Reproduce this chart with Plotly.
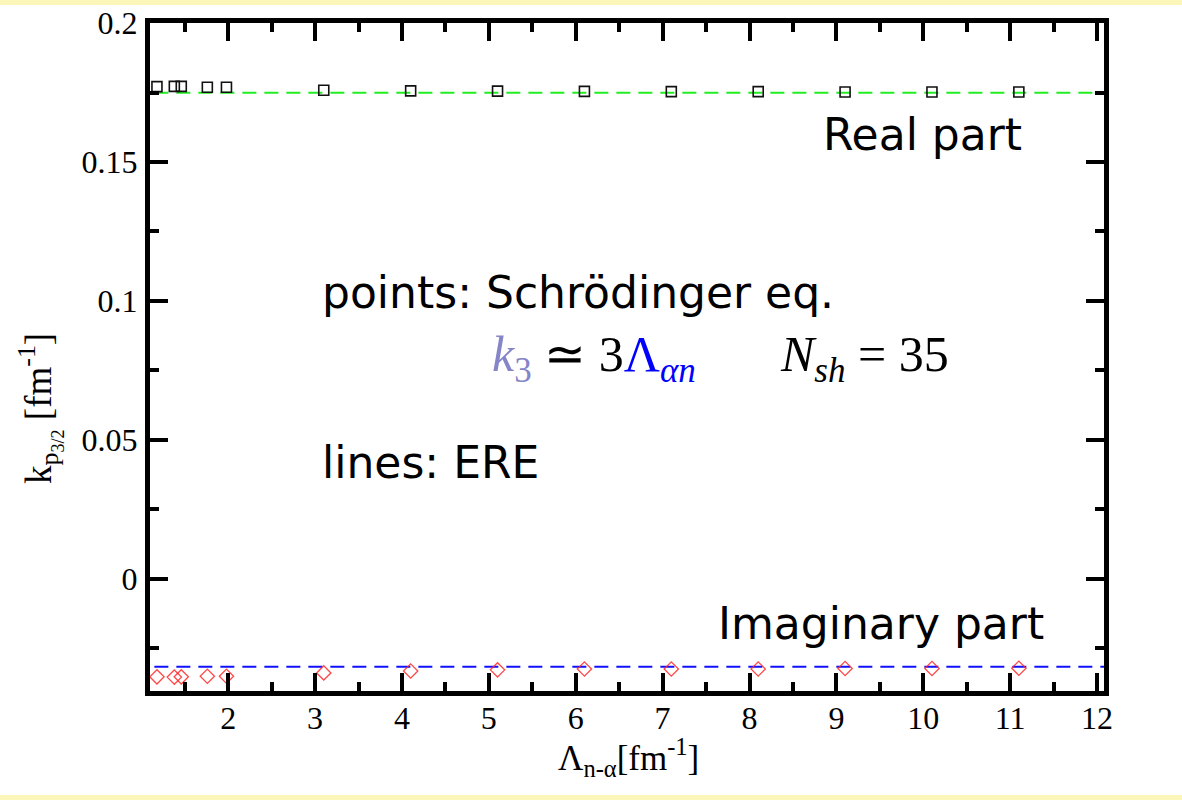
import plotly.graph_objects as go

# ---- data ----
lam_pts = [1.18, 1.38, 1.46, 1.76, 1.98, 3.1, 4.1, 5.1, 6.1, 7.1, 8.1, 9.1, 10.1, 11.1]
real_pts = [0.1771, 0.1772, 0.1772, 0.1769, 0.1769, 0.1758, 0.1756, 0.1755, 0.1754,
            0.1753, 0.1753, 0.1752, 0.1752, 0.1752]
imag_pts = [-0.0352, -0.0353, -0.0352, -0.0350, -0.0350, -0.0338, -0.0331, -0.0327,
            -0.0324, -0.0324, -0.0324, -0.0322, -0.0322, -0.0321]
ere_lam = [1.15, 12.08]
ere_real = [0.1749, 0.1749]
ere_imag = [-0.0316, -0.0316]

x_tick_vals = [2, 3, 4, 5, 6, 7, 8, 9, 10, 11, 12]
x_tick_text = ["2", "3", "4", "5", "6", "7", "8", "9", "10", "11", "12"]
y_tick_vals = [0, 0.05, 0.1, 0.15, 0.2]
y_tick_text = ["0", "0.05", "0.1", "0.15", "0.2"]

# ---- layout geometry (pixels) ----
W, H = 1182, 800
L, R, T, B = 150, 78, 23, 109
PW, PH = W - L - R, H - T - B


def px(xp):
    return (xp - L) / PW


def py(yp):
    return (H - B - yp) / PH


fig = go.Figure()

fig.add_trace(go.Scatter(x=ere_lam, y=ere_real, mode="lines",
                         line=dict(color="#22ee22", width=2, dash="14px,8px"),
                         showlegend=False, hoverinfo="skip"))
fig.add_trace(go.Scatter(x=ere_lam, y=ere_imag, mode="lines",
                         line=dict(color="#1010ff", width=2, dash="14px,8px"),
                         showlegend=False, hoverinfo="skip"))
fig.add_trace(go.Scatter(x=lam_pts, y=real_pts, mode="markers",
                         marker=dict(symbol="square-open", size=10, color="#111111",
                                     line=dict(width=1.6, color="#111111")),
                         showlegend=False))
fig.add_trace(go.Scatter(x=lam_pts, y=imag_pts, mode="markers",
                         marker=dict(symbol="diamond-open", size=11, color="rgba(255,40,40,0.85)",
                                     line=dict(width=1.3, color="rgba(255,40,40,0.85)")),
                         showlegend=False))

tickfont = dict(family="Liberation Serif", size=32, color="black")
axis_common = dict(showline=True, linewidth=5, linecolor="black", mirror="ticks",
                   ticks="inside", ticklen=18, tickwidth=4, tickcolor="black",
                   showgrid=False, zeroline=False, tickfont=tickfont, automargin=False)

fig.update_xaxes(range=[1.1, 12.08], tickvals=x_tick_vals, ticktext=x_tick_text,
                 minor=dict(ticks="inside", dtick=0.5, tick0=0, ticklen=9, tickwidth=4,
                            tickcolor="black", showgrid=False),
                 ticklabelstandoff=-5, **axis_common)
fig.update_yaxes(range=[-0.0403, 0.2], tickvals=y_tick_vals, ticktext=y_tick_text,
                 minor=dict(ticks="inside", dtick=0.025, tick0=0, ticklen=9, tickwidth=4,
                            tickcolor="black", showgrid=False),
                 ticklabelstandoff=1, **axis_common)

band = "#fcf7b8"
shapes = [
    dict(type="rect", xref="paper", yref="paper", x0=px(0), x1=px(W), y0=py(0), y1=py(5),
         fillcolor=band, line=dict(width=0), layer="below"),
    dict(type="rect", xref="paper", yref="paper", x0=px(0), x1=px(W), y0=py(795), y1=py(800),
         fillcolor=band, line=dict(width=0), layer="below"),
]

hand = dict(family="DejaVu Sans", size=44, color="black")
math = dict(family="Liberation Serif", size=50, color="black")

annotations = [
    dict(text="Real part", x=px(821), y=py(134), xanchor="left", yanchor="middle", font=hand),
    dict(text="points: Schrödinger eq.", x=px(320), y=py(292), xanchor="left", yanchor="middle", font=hand),
    dict(text="lines: ERE", x=px(320), y=py(462), xanchor="left", yanchor="middle", font=hand),
    dict(text="Imaginary part", x=px(716), y=py(623), xanchor="left", yanchor="middle", font=hand),
    dict(text="<span style='color:#8585c8'><i>k</i><sub>3</sub></span> ≃ 3"
              "<span style='color:#0000ff'>Λ<sub><i>αn</i></sub></span>",
         x=px(490), y=py(358), xanchor="left", yanchor="middle", font=math),
    dict(text="<i>N</i><sub><i>sh</i></sub> = 35",
         x=px(778), y=py(358), xanchor="left", yanchor="middle", font=math),
    dict(text="Λ<sub>n-α</sub>[fm<sup>-1</sup>]", x=px(628), y=py(757),
         xanchor="center", yanchor="middle",
         font=dict(family="Liberation Serif", size=35, color="black")),
    dict(text="k<sub>p<sub>3/2</sub></sub> [fm<sup>-1</sup>]", x=px(40), y=py(409),
         xanchor="center", yanchor="middle", textangle=-90,
         font=dict(family="Liberation Serif", size=37, color="black")),
]
for a in annotations:
    a.update(xref="paper", yref="paper", showarrow=False)

fig.update_layout(width=W, height=H, margin=dict(l=L, r=R, t=T, b=B),
                  paper_bgcolor="white", plot_bgcolor="white",
                  shapes=shapes, annotations=annotations)

fig.write_html("out.html")
